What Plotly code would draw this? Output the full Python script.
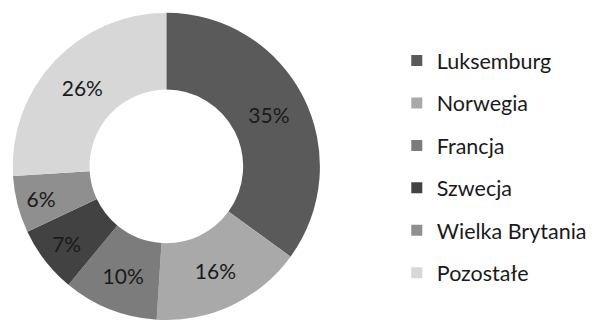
import plotly.graph_objects as go

categories = ["Luksemburg", "Norwegia", "Francja", "Szwecja", "Wielka Brytania", "Pozostałe"]
shares = [35, 16, 10, 7, 6, 26]
colors = ["#5a5a5a", "#a9a9a9", "#7c7c7c", "#424242", "#8f8f8f", "#d7d7d7"]

FONT = "Lato"

fig = go.Figure()

fig.add_trace(go.Pie(
    labels=categories,
    values=shares,
    marker=dict(colors=colors, line=dict(width=0)),
    hole=0.5,
    sort=False,
    direction="clockwise",
    rotation=0,
    texttemplate="%{value}%",
    textposition="inside",
    insidetextorientation="horizontal",
    textfont=dict(family=FONT, size=21, color="#1a1a1a"),
    showlegend=False,
    domain=dict(x=[0.0, 0.56], y=[0.0, 0.96]),
))

# legend entries, one group per category for even spacing
for name, col in zip(categories, colors):
    fig.add_trace(go.Scatter(
        x=[None], y=[None], mode="markers", name=name,
        legendgroup=name,
        marker=dict(symbol="square", size=11, color=col),
        showlegend=True,
    ))

fig.update_layout(
    width=594, height=320,
    margin=dict(l=0, r=0, t=0, b=0),
    paper_bgcolor="white", plot_bgcolor="white",
    xaxis=dict(visible=False), yaxis=dict(visible=False),
    legend=dict(
        x=0.668, y=0.875, xanchor="left", yanchor="top",
        font=dict(family=FONT, size=21.5, color="#1a1a1a"),
        tracegroupgap=11.5,
        itemclick=False,
        bgcolor="rgba(0,0,0,0)",
    ),
    uniformtext=dict(minsize=10, mode="show"),
)

fig.write_html("out.html")
